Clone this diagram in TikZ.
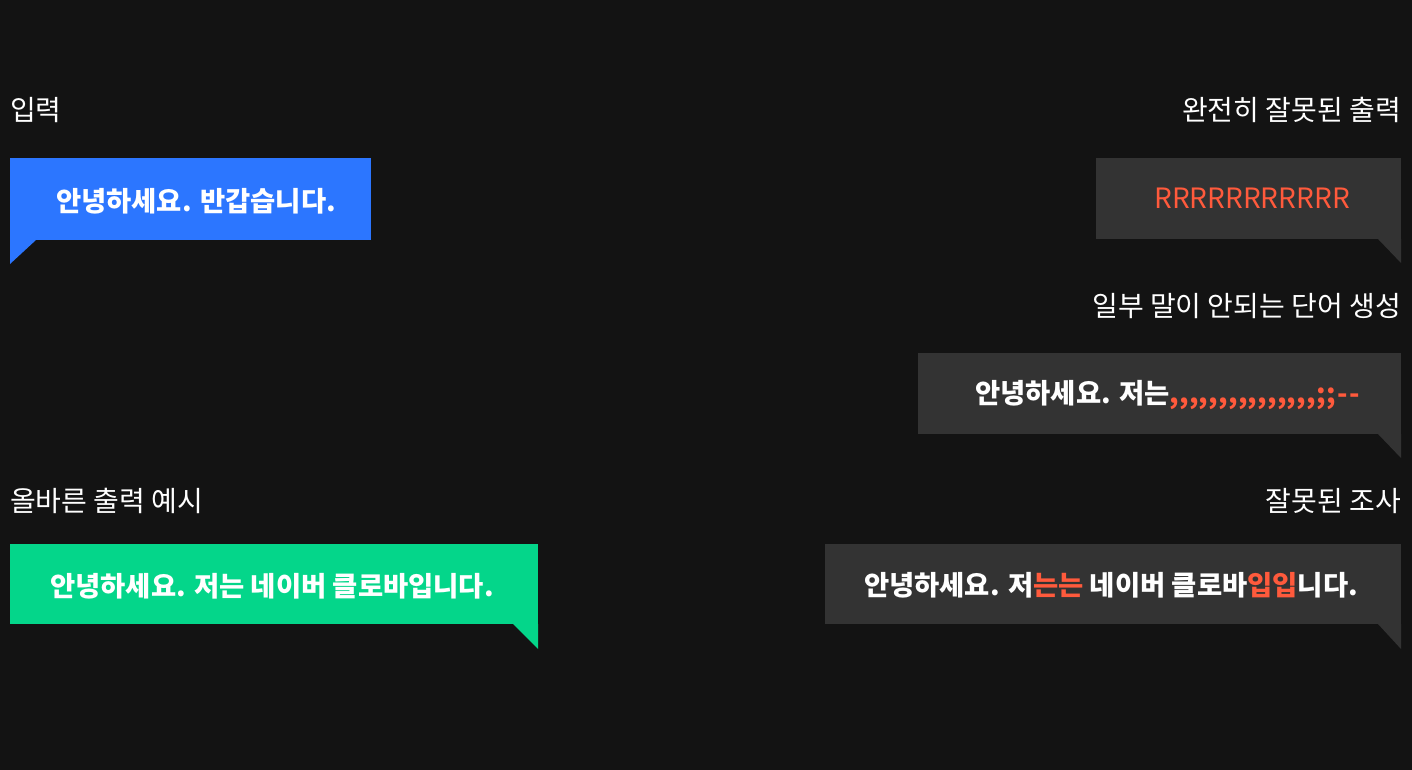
\documentclass[tikz,border=0pt]{standalone}
\usepackage{fontspec}
\setmainfont{Noto Sans CJK KR}
\definecolor{bg}{HTML}{131313}
\definecolor{dark}{HTML}{333333}
\definecolor{bblue}{HTML}{2C76FF}
\definecolor{bgreen}{HTML}{04D68A}
\definecolor{wrong}{HTML}{FF5A3C}
\newcommand\rcomma{,\kern0.15pt}
\newcommand\rsemi{;\kern1pt}
\begin{document}
\begin{tikzpicture}[x=1pt,y=-1pt,
  lbl/.style={text=white, inner sep=0, font=\fontsize{28}{32}\selectfont},
  bubble/.style={inner sep=0, outer sep=0, anchor=north west},
  txt/.style={text=white, inner sep=0, anchor=base, font=\fontsize{27.4}{32}\selectfont\bfseries},
  bad/.style={text=wrong}
]
\useasboundingbox (0,0) rectangle (1412,770);
\fill[bg] (0,0) rectangle (1412,770);

% labels
\node[lbl, anchor=base west] (l1) at (10,121) {입력};
\node[lbl, anchor=base east] (l2) at (1401,121) {완전히 잘못된 출력};
\node[lbl, anchor=base east] (l3) at (1401,316) {일부 말이 안되는 단어 생성};
\node[lbl, anchor=base west] (l4) at (10,511) {올바른 출력 예시};
\node[lbl, anchor=base east] (l5) at (1401,511) {잘못된 조사};

% bubble 1 (input)
\node[bubble, fill=bblue, minimum width=361, minimum height=82] (b1) at (10,158) {};
\fill[bblue] (b1.south west) -- ++(26,0) -- ++(-26,24) -- cycle;
\node[txt] (t1) at (196,211) {안녕하세요. 반갑습니다.};

% bubble 2 (completely wrong)
\node[bubble, fill=dark, minimum width=305, minimum height=81] (b2) at (1096,158) {};
\fill[dark] (b2.south east) -- ++(-23,0) -- ++(23,24) -- cycle;
\node[txt, font=\fontsize{28}{32}\selectfont, text=wrong] (t2) at (1252,208) {RRRRRRRRRRR};

% bubble 3 (nonsense words)
\node[bubble, fill=dark, minimum width=483, minimum height=81] (b3) at (918,353) {};
\fill[dark] (b3.south east) -- ++(-23,0) -- ++(23,24) -- cycle;
\node[txt, anchor=base west] (t3) at (975,403) {안녕하세요. 저는\textcolor{wrong}{\rcomma\rcomma\rcomma\rcomma\rcomma\rcomma\rcomma\rcomma\rcomma\rcomma\rcomma\rcomma\rcomma\rcomma\rcomma\rsemi\rsemi-{}\kern1.5pt-}};

% bubble 4 (correct)
\node[bubble, fill=bgreen, minimum width=528, minimum height=80] (b4) at (10,544) {};
\fill[bgreen] (b4.south east) -- ++(-25,0) -- ++(25,25) -- cycle;
\node[txt] (t4) at (272,596) {안녕하세요. 저는 네이버 클로바입니다.};

% bubble 5 (wrong particles)
\node[bubble, fill=dark, minimum width=576, minimum height=80] (b5) at (825,544) {};
\fill[dark] (b5.south east) -- ++(-23,0) -- ++(23,25) -- cycle;
\node[txt] (t5) at (1111,595) {안녕하세요. 저\textcolor{wrong}{는는} 네이버 클로바\textcolor{wrong}{입입}니다.};
\end{tikzpicture}
\end{document}
